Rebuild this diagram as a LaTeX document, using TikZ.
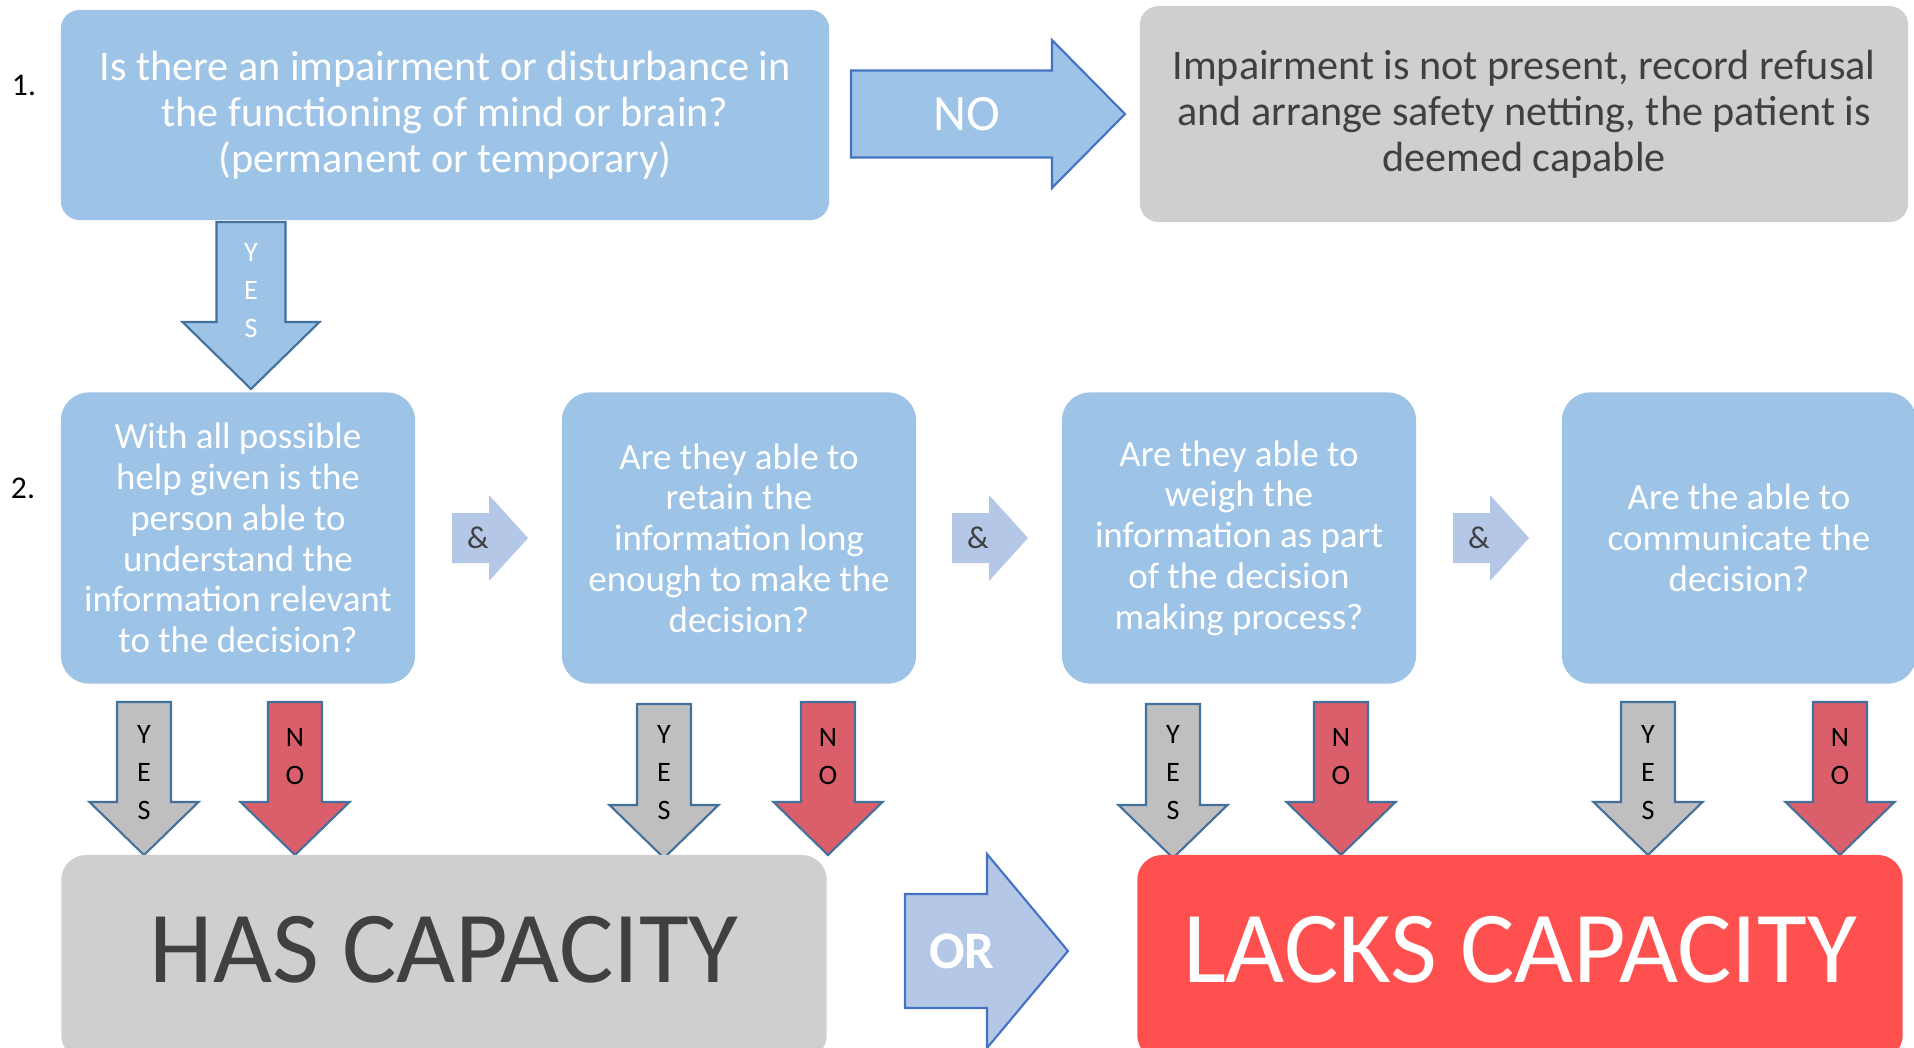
\documentclass[tikz,border=0pt]{standalone}
\usepackage{fontspec}
\setmainfont{Carlito}
\usepackage{tikz}
\usepackage{xcolor}
\usetikzlibrary{positioning}
\definecolor{cBlue}{RGB}{157,195,230}
\definecolor{cAmp}{RGB}{180,199,231}
\definecolor{cGrey}{RGB}{208,206,206}
\definecolor{cDark}{RGB}{64,64,64}
\definecolor{cYes}{RGB}{191,191,191}
\definecolor{cNo}{RGB}{218,95,106}
\definecolor{cEdge}{RGB}{65,113,156}
\definecolor{cEdgeB}{RGB}{68,114,196}
\definecolor{cLacks}{RGB}{255,80,80}
\tikzset{
	topbox/.style={rectangle, rounded corners=0.19cm, minimum width=7.68cm, minimum height=2.1cm, align=center, inner sep=0pt, font=\fontsize{12}{13.1}\selectfont},
	qbox/.style={rectangle, rounded corners=0.28cm, minimum width=3.54cm, minimum height=2.91cm, align=center, inner sep=0pt, fill=cBlue, text=white, font=\fontsize{10.5}{11.6}\selectfont},
	outbox/.style={rectangle, rounded corners=0.25cm, minimum width=7.65cm, minimum height=2.05cm, inner sep=0pt, text height=18.7pt, text depth=4.3pt, font=\fontsize{29}{33}\selectfont},
	% block arrow helpers
	yesblock/.style={fill=cYes, draw=cEdge, line width=0.6pt},
	noblock/.style={fill=cNo, draw=cEdge, line width=0.6pt},
	blueblock/.style={fill=cBlue, draw=cEdge, line width=0.6pt},
	andblock/.style={fill=cAmp, draw=none},
	letters/.style={align=center, inner sep=0pt, font=\fontsize{8}{10.8}\selectfont},
	step no/.style={inner sep=0pt, font=\fontsize{9}{10}\selectfont},
}
% style, x, top, head start, tip, body half, head half
\newcommand{\downblock}[7]{%
	\draw[#1] (#2-#6,#3) -- (#2+#6,#3) -- (#2+#6,#4) -- (#2+#7,#4) -- (#2,#5) -- (#2-#7,#4) -- (#2-#6,#4) -- cycle;}
% style, left, mid, head start, tip, body half, head half
\newcommand{\rightblock}[7]{%
	\draw[#1] (#2,#3-#6) -- (#4,#3-#6) -- (#4,#3-#7) -- (#5,#3) -- (#4,#3+#7) -- (#4,#3+#6) -- (#2,#3+#6) -- cycle;}

\begin{document}
\begin{tikzpicture}[x=0.01cm, y=-0.01cm]
	\useasboundingbox (0,0) rectangle (1914,1047);
	\clip (0,0) rectangle (1914,1047);

	\node[step no] (s1) at (24,85) {1.};
	\node[step no] (s2) at (23,488) {2.};

	\node[topbox, fill=cBlue, text=white] (imp) at (445,115) {Is there an impairment or disturbance in\\the functioning of mind or brain?\\(permanent or temporary)};
	\node[topbox, fill=cGrey, text=cDark, minimum height=2.16cm] (capable) at (1524,114) {Impairment is not present, record refusal\\and arrange safety netting, the patient is\\deemed capable};

	\rightblock{draw=cEdgeB, fill=cBlue, line width=0.6pt}{851}{114}{1052}{1125}{43.5}{74}
	\node[text=white, font=\fontsize{14.5}{16}\selectfont] (no0) at (967,114) {NO};

	\downblock{blueblock}{251}{222}{322}{389}{34.5}{68.5}
	\node[letters, text=white] (yes0) at (251,291) {Y\\E\\S};

	\node[qbox] (understand) at (238,538) {With all possible\\help given is the\\person able to\\understand the\\information relevant\\to the decision?};
	\node[qbox] (retain) at (739,538) {Are they able to\\retain the\\information long\\enough to make the\\decision?};
	\node[qbox] (weigh) at (1239,538) {Are they able to\\weigh the\\information as part\\of the decision\\making process?};
	\node[qbox] (communicate) at (1739,538) {Are the able to\\communicate the\\decision?};

	\foreach \ax [count=\i] in {452,952,1453} {
		\rightblock{andblock}{\ax}{538}{\ax+37}{\ax+76}{25}{43}
		\node[text=cDark, inner sep=0pt, font=\fontsize{9}{10}\selectfont] (and\i) at (\ax+26,538) {\&};
	}

	\foreach \yx/\ytop/\ytip [count=\i] in {144/702/855, 664/704/858, 1173/704/858, 1648/702/855} {
		\downblock{yesblock}{\yx}{\ytop}{\ytip-53}{\ytip}{27}{54.5}
		\node[letters] (yes\i) at (\yx,773) {Y\\E\\S};
	}
	\foreach \nx [count=\i] in {295,828,1341,1840} {
		\downblock{noblock}{\nx}{702}{802}{855}{27}{54.5}
		\node[letters] (no\i) at (\nx,757) {N\\O};
	}

	\node[outbox, fill=cGrey, text=cDark] (has) at (444,957.5) {HAS CAPACITY};
	\node[outbox, fill=cLacks, text=white] (lacks) at (1520,957.5) {LACKS CAPACITY};

	\rightblock{draw=cEdgeB, fill=cAmp, line width=0.6pt}{905}{951}{987}{1068}{57}{97}
	\node[text=white, font=\bfseries\fontsize{15}{17}\selectfont] (or) at (962,951) {OR};
\end{tikzpicture}
\end{document}
